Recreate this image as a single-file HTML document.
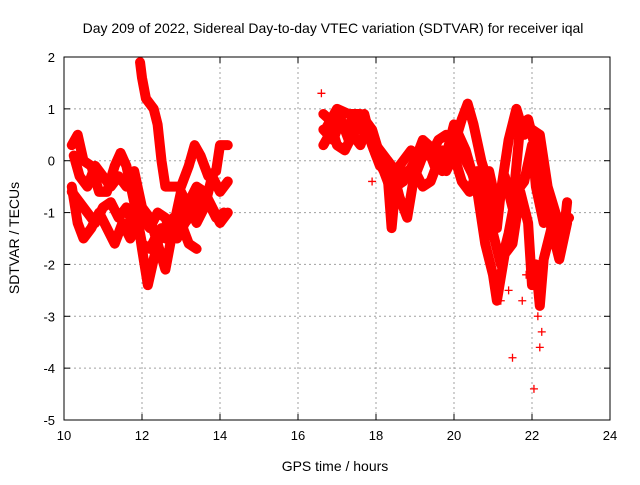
<!DOCTYPE html>
<html><head><meta charset="utf-8"><style>
body{margin:0;background:#fff;}
svg text{font-family:"Liberation Sans",sans-serif;fill:#000;}
</style></head><body>
<svg id="chart" width="640" height="480" xmlns="http://www.w3.org/2000/svg">
<rect width="640" height="480" fill="#fff"/>
<text x="333" y="33" font-size="14" text-anchor="middle">Day 209 of 2022, Sidereal Day-to-day VTEC variation (SDTVAR) for receiver iqal</text>
<text x="335" y="471" font-size="14" text-anchor="middle">GPS time / hours</text>
<text transform="translate(19,238) rotate(-90)" font-size="14" text-anchor="middle">SDTVAR / TECUs</text>
<g id="grid"></g><g id="ticks"></g><g id="marks"></g>
<rect x="64" y="57" width="546" height="363" fill="none" stroke="#000" stroke-width="1"/>
</svg>
<script>
const xTicks=[10,12,14,16,18,20,22,24];
const yTicks=[2,1,0,-1,-2,-3,-4,-5];
const trackA=[[10.2,0.3],[10.35,0.5],[10.5,0],[10.7,-0.1],[10.9,-0.6],[11.1,-0.6],[11.3,-0.1],[11.45,0.15],[11.6,-0.1],[11.8,-0.8],[12.0,-1.6],[12.2,-1.7],[12.4,-1.4],[12.6,-1.5],[12.8,-1.1],[13.0,-1.2],[13.2,-1.6],[13.4,-1.7]];
const trackB=[[10.2,-0.5],[10.35,-1.2],[10.5,-1.5],[10.7,-1.3],[10.9,-1.0],[11.1,-1.3],[11.3,-1.6],[11.5,-1.2],[11.7,-1.5],[11.9,-1.2],[12.0,-1.7],[12.15,-2.4],[12.3,-1.9],[12.5,-1.3],[12.7,-1.3],[12.9,-1.5],[13.1,-1.2],[13.3,-1.0],[13.5,-0.6],[13.7,-0.8],[13.9,-1.1],[14.1,-1.0]];
const trackC=[[11.95,1.9],[12.0,1.6],[12.1,1.2],[12.3,1.0],[12.4,0.7],[12.5,0.0],[12.6,-0.5],[12.8,-0.5],[13.0,-0.5],[13.2,-0.1],[13.35,0.3],[13.5,0.1],[13.7,-0.3],[13.9,-0.2],[14.0,0.3],[14.2,0.3]];
const trackD=[[10.2,-0.6],[10.4,-0.8],[10.6,-1.0],[10.8,-1.2],[11.0,-0.9],[11.2,-0.8],[11.4,-1.1],[11.6,-0.9],[11.8,-1.3],[12.0,-1.1],[12.2,-1.3],[12.4,-1.0],[12.6,-1.1],[12.8,-1.5],[13.0,-1.0],[13.2,-0.8],[13.4,-0.5],[13.6,-0.6],[13.8,-0.9],[14.0,-1.2],[14.2,-1.0]];
const trackH=[[10.25,0.1],[10.4,-0.3],[10.6,-0.5],[10.8,-0.1],[11.0,-0.3],[11.2,-0.5],[11.4,-0.3],[11.6,-0.5],[11.8,-0.2],[12.0,-0.9],[12.2,-1.1],[12.4,-1.6],[12.6,-2.1],[12.8,-1.3],[13.0,-0.6],[13.2,-0.9],[13.4,-1.2],[13.6,-0.9],[13.8,-0.3],[14.0,-0.6],[14.2,-0.4]];
const trackE=[[16.65,0.3],[16.8,0.5],[17.0,0.7],[17.2,0.6],[17.4,0.8],[17.6,0.7],[17.8,0.5],[18.0,0.1],[18.2,-0.2],[18.4,-0.6],[18.6,-0.4],[18.8,-0.2],[19.0,-0.3],[19.2,0.1],[19.4,0.1],[19.6,0.4],[19.8,0.5],[20.0,0.3],[20.2,0.8],[20.35,1.1],[20.5,0.7],[20.7,0],[20.9,-0.5],[21.1,-1.3],[21.2,-0.6],[21.4,0.4],[21.6,1.0],[21.8,0.5],[22.0,0.6],[22.2,0.5],[22.4,-0.5],[22.6,-1.0],[22.8,-1.5],[22.9,-0.8]];
const trackF=[[16.65,0.9],[16.8,0.8],[17.0,0.3],[17.2,0.2],[17.4,0.5],[17.6,0.3],[17.8,0.7],[18.0,0.3],[18.2,0.1],[18.4,-0.1],[18.6,-0.7],[18.8,-1.1],[19.0,-0.2],[19.2,-0.5],[19.4,-0.4],[19.6,0],[19.8,-0.2],[20.0,0.1],[20.2,-0.4],[20.4,-0.6],[20.6,-0.2],[20.8,-0.8],[21.0,-1.4],[21.2,-2.0],[21.4,-1.4],[21.6,-0.6],[21.8,-0.4],[22.0,0.3],[22.1,-0.5],[22.3,-1.2],[22.5,-1.0],[22.7,-1.5],[22.85,-1.2],[22.95,-1.1]];
const trackG=[[16.7,0.6],[17.0,1.0],[17.3,0.9],[17.6,0.9],[17.9,0.6],[18.1,0.1],[18.3,-0.3],[18.4,-1.3],[18.5,-0.5],[18.7,-0.4],[19.0,0.0],[19.2,0.4],[19.5,0.2],[19.7,-0.2],[20.0,0.7],[20.3,0.2],[20.6,-0.6],[20.8,-1.6],[21.0,-2.2],[21.1,-2.7],[21.3,-1.8],[21.5,-1.6],[21.7,-0.6],[21.9,-1.2],[22.0,-2.4],[22.1,-2.0],[22.2,-2.8],[22.3,-1.9],[22.5,-1.3]];
const trackI=[[16.65,0.6],[16.9,0.4],[17.1,0.8],[17.3,0.4],[17.5,0.6],[17.7,0.9],[17.9,0.3],[18.1,-0.1],[18.3,0.0],[18.5,-0.2],[18.7,0.0],[18.9,0.2],[19.1,-0.1],[19.3,0.3],[19.5,-0.1],[19.7,0.2],[19.9,0.0],[20.1,0.3],[20.3,0.0],[20.5,-0.3],[20.7,-0.8],[20.9,-0.2],[21.1,-0.9],[21.3,-0.3],[21.5,-0.9],[21.7,0.7],[21.9,0.8],[22.1,0.2],[22.3,-0.8],[22.5,-1.3],[22.7,-1.9],[22.9,-1.2]];
const outliers=[[21.5,-3.8],[22.05,-4.4],[22.2,-3.6],[21.75,-2.7],[22.25,-3.3],[21.2,-2.7],[21.4,-2.5],[17.9,-0.4],[16.6,1.3],[22.15,-3.0],[21.85,-2.2]];

const X0=64,X1=610,Y0=57,Y1=420;
function xs(t){return X0+(t-10)/(24-10)*(X1-X0);}
function ys(v){return Y0+(2-v)/(2-(-5))*(Y1-Y0);}
const NS='http://www.w3.org/2000/svg';
const grid=document.getElementById('grid'),ticks=document.getElementById('ticks'),marks=document.getElementById('marks');
function mk(tag,attrs,parent){const e=document.createElementNS(NS,tag);for(const k in attrs)e.setAttribute(k,attrs[k]);parent.appendChild(e);return e;}
xTicks.forEach(t=>{
  const x=xs(t);
  if(t>10&&t<24){const g=mk('line',{x1:x,y1:Y0,x2:x,y2:Y1,stroke:'#a0a0a0','stroke-dasharray':'2,3'},grid);
  
  }
  mk('line',{x1:x,y1:Y1,x2:x,y2:Y1-6,stroke:'#000'},ticks);
  mk('line',{x1:x,y1:Y0,x2:x,y2:Y0+6,stroke:'#000'},ticks);
  const l=mk('text',{x:x,y:Y1+20,'font-size':13,'text-anchor':'middle'},ticks);l.textContent=t;
  
  
});
yTicks.forEach(v=>{
  const y=ys(v);
  if(v<2&&v>-5){const g=mk('line',{x1:X0,y1:y,x2:X1,y2:y,stroke:'#a0a0a0','stroke-dasharray':'2,3'},grid);
  
  }
  mk('line',{x1:X0,y1:y,x2:X0+6,y2:y,stroke:'#000'},ticks);
  mk('line',{x1:X1,y1:y,x2:X1-6,y2:y,stroke:'#000'},ticks);
  const l=mk('text',{x:X0-9,y:y+5,'font-size':13,'text-anchor':'end'},ticks);l.textContent=v;
  
  
});
function plus(t,v){
  const x=xs(t),y=ys(v);
  const p=mk('path',{d:`M${x-4},${y}h8M${x},${y-4}v8`,stroke:'#f00','stroke-width':1.3,fill:'none'},marks);
  
  
}
[trackA,trackB,trackC,trackD,trackH,trackE,trackF,trackG,trackI].forEach((tr,i)=>{
  const pl=mk('polyline',{points:tr.map(p=>xs(p[0])+','+ys(p[1])).join(' '),fill:'none',stroke:'#f00','stroke-width':10,'stroke-linejoin':'round','stroke-linecap':'round'},marks);
  
  
  tr.forEach(p=>plus(p[0],p[1]));
});
outliers.forEach(p=>plus(p[0],p[1]));
</script>
</body></html>
